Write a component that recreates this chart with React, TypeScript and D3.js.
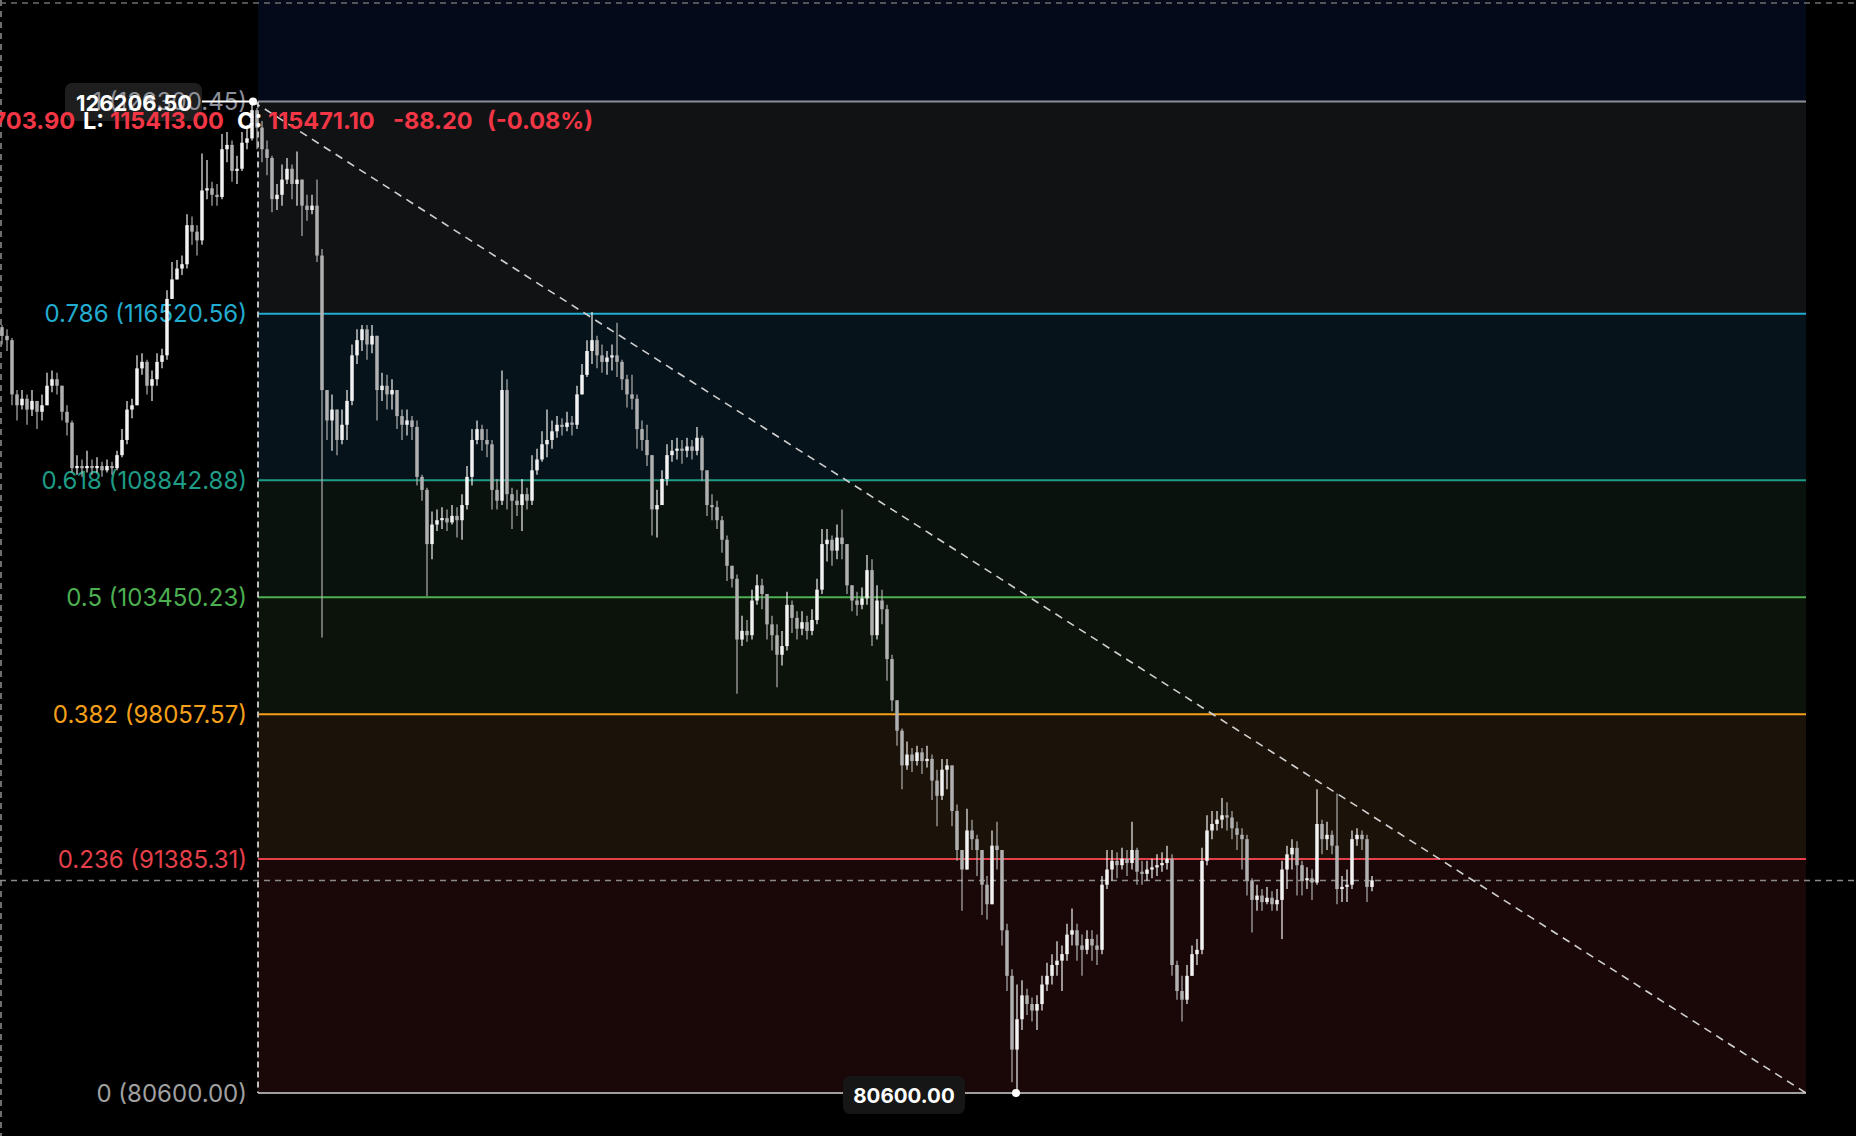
import React from 'react';
import * as d3 from 'd3';

const W = 1856;
const H = 1136;

// Prices in thousands of USD, one candle per slot (open = previous close)
const firstOpen = 115.9;
const closes = [
  115.5,115.3,112.8,112.3,112.6,112.1,112.5,112.0,112.3,113.2,
  113.5,113.2,112.0,111.5,109.4,109.5,109.4,109.5,109.4,109.5,
  109.3,109.5,109.4,110.0,110.7,112.1,112.3,114.0,114.3,113.2,
  113.5,114.3,114.6,117.2,118.1,118.6,118.8,120.6,120.3,119.9,
  122.2,122.3,122.0,121.9,124.1,124.3,123.1,123.2,124.4,124.6,
  125.9,125.1,124.1,123.7,121.8,122.0,122.7,123.2,122.5,122.7,
  121.5,121.3,121.5,119.2,113.0,111.6,112.1,110.7,111.4,112.5,
  114.6,115.3,115.8,115.1,115.5,113.0,113.2,112.8,113.0,111.8,
  111.4,111.6,111.3,109.0,108.4,105.9,106.8,107.0,107.1,106.9,
  107.2,107.0,107.7,109.0,110.7,111.2,110.7,110.5,108.4,107.9,
  113.0,108.2,107.9,107.7,108.2,107.9,109.3,109.8,110.5,110.7,
  111.1,111.4,111.3,111.5,111.4,112.8,113.7,114.8,115.3,114.6,
  114.3,114.5,114.6,114.3,113.5,112.8,112.6,111.2,110.7,110.0,
  107.5,107.7,108.9,110.0,110.2,110.3,110.2,110.4,110.2,110.8,
  109.3,107.7,107.6,107.0,106.1,104.9,104.3,101.5,101.9,101.7,
  103.3,104.0,103.6,102.2,101.7,100.8,101.2,103.1,102.5,102.0,
  102.3,101.9,102.4,103.8,105.9,106.1,105.6,106.2,105.9,104.0,
  103.3,103.1,103.4,104.7,101.7,103.3,102.9,100.6,98.7,97.3,
  95.7,96.2,95.9,96.3,95.9,96.0,95.0,94.3,95.5,95.7,
  93.6,91.8,90.9,92.7,92.3,91.8,90.2,89.3,92.0,91.8,
  88.1,86.0,82.6,84.0,85.1,84.7,84.4,84.7,85.6,86.0,
  86.5,86.7,87.0,87.9,88.1,87.4,87.2,87.7,87.4,87.2,
  90.2,90.9,91.3,91.1,91.4,91.2,91.8,90.8,90.7,90.9,
  91.0,91.1,91.2,91.4,86.5,85.3,84.9,86.0,87.0,87.2,
  91.3,92.7,93.0,93.2,93.4,93.3,92.8,92.5,92.3,90.4,
  89.5,89.7,89.4,89.6,89.3,89.5,90.9,91.6,91.9,91.1,
  90.4,90.5,90.3,93.0,92.3,92.5,92.0,90.0,90.1,90.2,
  92.3,92.5,92.3,90.1,90.4,
];
const highs = [
  116.0,115.8,115.4,113.0,113.0,112.8,113.0,112.5,112.8,113.8,
  113.9,113.8,113.2,112.3,111.6,110.0,109.8,110.2,109.8,109.9,
  109.7,109.8,109.7,110.2,111.2,112.5,112.6,114.6,114.7,114.4,
  113.9,114.7,114.9,117.6,118.9,119.0,119.2,121.1,121.0,120.6,
  123.9,123.6,122.6,122.5,124.8,124.9,124.5,123.8,124.9,125.2,
  126.2,126.0,125.4,124.5,123.8,122.5,123.4,123.7,123.4,124.0,
  122.7,122.0,122.0,122.7,119.5,113.0,112.8,111.8,112.1,113.0,
  115.1,115.8,116.0,116.0,116.0,115.5,113.8,113.7,113.5,113.0,
  112.1,112.1,111.8,111.6,109.1,108.5,107.4,107.5,107.6,107.5,
  107.7,107.6,108.2,109.5,111.2,111.6,111.4,111.2,110.7,108.9,
  113.9,113.5,108.5,108.4,108.9,108.5,110.0,110.3,111.1,112.1,
  111.6,111.8,111.7,112.0,111.8,113.2,114.2,115.3,116.6,115.5,
  115.1,114.8,115.1,116.1,114.4,113.7,113.7,112.8,111.6,111.4,
  110.0,108.4,109.3,110.5,110.7,110.8,110.7,110.8,110.7,111.3,
  110.9,109.3,108.2,107.9,107.2,106.3,104.9,104.5,102.6,102.4,
  103.8,104.5,104.3,103.6,102.6,102.2,101.9,103.7,103.3,102.8,
  102.8,102.6,102.9,104.3,106.6,106.6,106.3,106.8,107.5,105.9,
  104.0,103.7,103.9,105.4,105.2,104.0,103.8,103.1,100.8,98.7,
  97.4,96.8,96.5,96.6,96.5,96.6,96.2,95.5,96.0,96.0,
  95.7,93.9,91.8,93.7,93.2,92.5,91.8,90.6,92.7,93.1,
  91.8,88.4,86.3,85.6,85.8,85.4,85.0,85.1,86.0,86.6,
  87.0,87.6,87.4,88.4,89.1,88.4,87.9,88.1,88.1,87.9,
  90.6,91.8,91.8,91.7,91.9,91.8,93.1,91.9,91.3,91.3,
  91.4,91.6,91.7,92.0,91.6,86.7,86.0,86.5,87.4,87.7,
  91.9,93.4,93.6,93.6,94.2,94.0,93.6,93.1,92.8,92.5,
  90.5,90.2,90.0,90.1,89.9,90.0,91.3,92.0,92.3,92.2,
  91.3,91.0,90.9,94.6,93.2,93.1,92.7,94.4,90.6,90.9,
  92.7,92.8,92.7,92.5,90.6,
];
const lows = [
  115.1,114.8,112.3,111.6,112.1,111.4,111.8,111.2,111.6,112.5,
  112.9,112.8,111.6,110.9,109.2,109.1,109.0,109.2,109.1,109.2,
  109.0,109.2,109.1,109.3,109.9,110.5,111.7,112.3,113.7,112.8,
  112.5,113.2,114.0,114.4,117.2,118.1,118.3,118.6,119.7,119.2,
  119.7,121.8,121.5,121.5,121.8,123.5,122.6,122.5,123.1,124.1,
  124.5,124.1,123.5,122.9,121.2,121.3,121.5,122.5,121.8,121.5,
  120.1,120.8,121.1,118.9,101.6,110.7,110.2,110.0,110.5,110.7,
  112.3,114.2,114.8,114.4,114.7,111.6,112.5,112.1,112.1,111.2,
  110.7,110.9,110.7,108.6,107.9,103.5,105.2,106.5,106.6,106.5,
  106.8,106.2,106.1,107.5,108.6,110.5,110.2,109.9,107.5,107.5,
  107.7,107.5,106.6,107.2,106.5,107.5,107.7,109.1,109.7,109.9,
  110.3,110.8,110.9,111.1,110.9,111.2,112.8,113.6,114.2,114.0,
  113.8,113.7,113.9,113.6,113.0,112.2,112.1,110.3,110.2,109.5,
  106.3,106.2,107.9,108.6,109.7,109.8,109.6,109.9,109.8,110.0,
  108.8,107.2,107.0,106.6,105.5,104.2,103.9,99.0,101.2,101.4,
  101.5,103.1,102.9,101.5,101.0,99.3,100.3,101.0,101.8,101.5,
  101.7,101.5,101.7,102.2,103.6,105.1,104.9,105.2,105.2,103.6,
  102.8,102.6,102.9,103.1,101.2,101.5,102.2,99.6,98.2,96.6,
  94.6,95.5,95.4,95.7,95.3,95.6,94.1,92.9,94.1,94.6,
  92.9,91.3,89.0,90.9,91.8,90.6,88.8,88.6,89.3,90.9,
  87.4,85.3,81.1,80.6,83.5,84.2,83.9,83.5,84.4,85.3,
  85.6,86.0,85.3,86.7,87.4,86.7,86.0,87.0,86.7,86.5,
  87.0,90.0,90.4,90.5,90.9,90.6,90.9,90.2,90.2,90.4,
  90.5,90.6,90.8,90.9,86.0,84.9,83.9,84.7,86.3,86.5,
  87.0,91.1,92.3,92.7,92.8,92.7,92.3,91.8,90.9,89.7,
  88.0,89.0,89.0,89.3,89.0,89.0,87.7,90.0,90.9,89.7,
  89.7,90.0,89.5,90.2,91.6,91.8,91.6,89.3,89.4,89.4,
  90.0,92.0,91.8,89.4,89.9,
];

// Fibonacci retracement tool
const fibRatios = ['1', '0.786', '0.618', '0.5', '0.382', '0.236', '0'];
const fibValues = [126300.45, 116520.56, 108842.88, 103450.23, 98057.57, 91385.31, 80600.0];
const fibColors = ['#8c8f98', '#22acd0', '#1e9c86', '#4caf50', '#f5a01a', '#e5404a', '#a0a0a0'];
const bandFills = ['#111214', '#07131a', '#0a120e', '#0b130b', '#1b1209', '#1a0809'];
const topBandFill = '#050a1a';
// anchors in candle-index units
const trendStartIdx = 50.2;
const fibLeftIdx = 51.2;
const fibRightIdx = 360.8;
const lowIdx = 202.8;
const highMarkPrice = 126206.5;
const lowMarkPrice = 80600.0;

// OHLC legend
const legendParts = [
  { t: 'H: 115703.90', c: '#f23645' },
  { t: 'L:', c: '#ffffff' },
  { t: '115413.00', c: '#f23645' },
  { t: 'C:', c: '#ffffff' },
  { t: '115471.10', c: '#f23645' },
  { t: '-88.20', c: '#f23645' },
  { t: '(-0.08%)', c: '#f23645' },
];
const legendX = [75, 83, 110, 237, 268, 393, 487];

const FONT = 'Inter, "Noto Sans", "DejaVu Sans", sans-serif';

export default function App() {
  const n = closes.length;
  const x = d3.scaleLinear().domain([0, n - 1]).range([2, 1372]);
  const y = d3.scaleLinear().domain([80600, 126300.45]).range([1093, 101.5]);

  const candles = closes.map((c, i) => {
    const o = i === 0 ? firstOpen : closes[i - 1];
    return { o: o * 1000, c: c * 1000, h: highs[i] * 1000, l: lows[i] * 1000 };
  });

  const fx0 = x(fibLeftIdx);
  const fx1 = x(fibRightIdx);
  const levelY = fibValues.map((v) => y(v));
  const lastClose = candles[n - 1].c;
  const yCur = y(lastClose);

  const fmt = d3.format('.2f');

  return (
    <svg
      width={W}
      height={H}
      style={{ position: 'absolute', left: 0, top: 0, background: '#000' }}
    >
      <rect x={0} y={0} width={W} height={H} fill="#000" />
      {/* bands */}
      <rect x={fx0} y={0} width={fx1 - fx0} height={levelY[0]} fill={topBandFill} />
      {bandFills.map((f, i) => (
        <rect key={'b' + i} x={fx0} y={levelY[i]} width={fx1 - fx0} height={levelY[i + 1] - levelY[i]} fill={f} />
      ))}
      {/* level lines */}
      {levelY.map((ly, i) => (
        <line key={'l' + i} x1={fx0} x2={fx1} y1={ly} y2={ly} stroke={fibColors[i]} strokeWidth={2} />
      ))}
      {/* high price mark box (behind the level label) */}
      <rect x={65} y={83} width={137} height={38} rx={7} fill="#1e1e1e" />
      {/* level labels */}
      {levelY.map((ly, i) => (
        <text
          key={'t' + i}
          x={247}
          y={ly}
          textAnchor="end"
          dominantBaseline="central"
          fill={fibColors[i]}
          fontFamily={FONT}
          fontSize={24}
        >
          {`${fibRatios[i]} (${fmt(fibValues[i])})`}
        </text>
      ))}
      {/* frame dashes */}
      <line x1={0} x2={W} y1={3} y2={3} stroke="#6e6e6e" strokeWidth={1.5} strokeDasharray="6 5" />
      <line x1={1} x2={1} y1={0} y2={H} stroke="#6e6e6e" strokeWidth={2} strokeDasharray="6 5" />
      <line x1={fx0} x2={fx0} y1={levelY[0]} y2={levelY[6]} stroke="#bdbdbd" strokeWidth={2} strokeDasharray="6 4" />
      <line x1={0} x2={W} y1={yCur} y2={yCur} stroke="#8a8a8a" strokeWidth={1.5} strokeDasharray="6 5" />
      {/* candles */}
      <g>
        {candles.map((d, i) => {
          const up = d.c >= d.o;
          const col = up ? '#f2f2f2' : '#b0b0b0';
          const top = y(Math.max(d.o, d.c));
          const bot = y(Math.min(d.o, d.c));
          const hi = y(Math.max(d.h, d.o, d.c));
          const lo = y(Math.min(d.l, d.o, d.c));
          const cx = x(i);
          return (
            <g key={'c' + i}>
              <line x1={cx} x2={cx} y1={hi} y2={lo} stroke={col} strokeWidth={1.2} />
              <rect x={cx - 1.75} y={top} width={3.5} height={Math.max(1, bot - top)} fill={col} />
            </g>
          );
        })}
      </g>
      {/* trend line */}
      <line
        x1={x(trendStartIdx)}
        y1={y(fibValues[0])}
        x2={fx1}
        y2={y(fibValues[6])}
        stroke="#d0d0d0"
        strokeWidth={1.6}
        strokeDasharray="8 6"
      />
      <line x1={202} x2={x(trendStartIdx)} y1={levelY[0]} y2={levelY[0]} stroke="#ffffff" strokeWidth={2} />
      {/* price marks */}
      <text x={134} y={levelY[0] + 1} textAnchor="middle" dominantBaseline="central" fill="#ffffff" fontFamily={FONT} fontWeight={700} fontSize={22}>
        {fmt(highMarkPrice)}
      </text>
      <circle cx={x(trendStartIdx)} cy={levelY[0]} r={4} fill="#ffffff" />
      <circle cx={x(lowIdx)} cy={y(lowMarkPrice)} r={4} fill="#ffffff" />
      <rect x={843} y={1076} width={122} height={38} rx={7} fill="#161616" />
      <text x={904} y={1095} textAnchor="middle" dominantBaseline="central" fill="#ffffff" fontFamily={FONT} fontWeight={700} fontSize={20.5}>
        {fmt(lowMarkPrice)}
      </text>
      {/* legend */}
      {legendParts.map((p, i) => (
        <text
          key={'g' + i}
          x={legendX[i]}
          y={129}
          textAnchor={i === 0 ? 'end' : 'start'}
          fill={p.c}
          fontFamily={FONT}
          fontWeight={700}
          fontSize={23.5}
        >
          {p.t}
        </text>
      ))}
    </svg>
  );
}
